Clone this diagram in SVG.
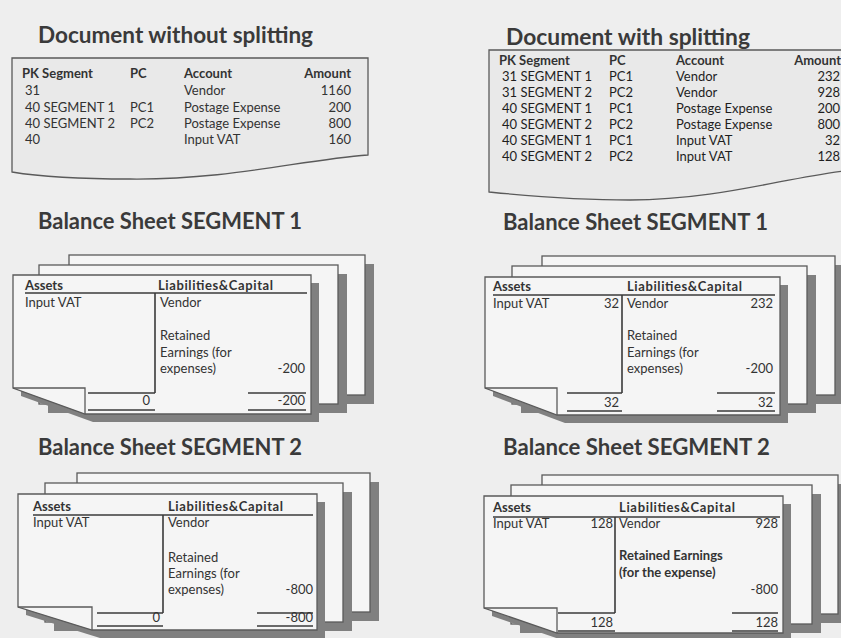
<svg xmlns="http://www.w3.org/2000/svg" width="841" height="638" viewBox="0 0 841 638">
<style>
  text { font-family: Lato, "Open Sans", "Liberation Sans", sans-serif; fill: #333; font-size: 13px; }
  .title { font-size: 23px; font-weight: bold; fill: #3a3a3a; }
  .b { font-weight: bold; }
  .sb { font-weight: bold; }
  .md { fill: #1e1e1e; }
  .r { text-anchor: end; }
  .doc { fill: #e9e9e9; stroke: #5a5a5a; stroke-width: 1.3; }
  .sheet { fill: #f5f5f5; stroke: #5a5a5a; stroke-width: 1.3; }
  .shadow { fill: #808080; }
  .flap { fill: none; stroke: #5a5a5a; stroke-width: 1.3; }
  .rule { stroke: #3a3a3a; stroke-width: 1.6; fill: none; }
</style>
<rect x="0" y="0" width="841" height="638" fill="#eeeeee"/>

<g id="doc-without">
  <text class="title" x="38" y="43" textLength="275" lengthAdjust="spacingAndGlyphs">Document without splitting</text>
  <path class="doc" d="M12,58 H368 V155 C300,160 230,180 130,179 C70,179 30,175 12,172 Z"/>
  <text class="b" x="22" y="78">PK Segment</text>
  <text class="b" x="130" y="78">PC</text>
  <text class="b" x="184" y="78">Account</text>
  <text class="b r" x="351" y="78">Amount</text>
  <text x="25" y="95">31</text>
  <text x="184" y="95">Vendor</text>
  <text class="r" x="351" y="95">1160</text>
  <text x="25" y="112">40 SEGMENT 1</text>
  <text x="130" y="112">PC1</text>
  <text x="184" y="112">Postage Expense</text>
  <text class="r" x="351" y="112">200</text>
  <text x="25" y="128">40 SEGMENT 2</text>
  <text x="130" y="128">PC2</text>
  <text x="184" y="128">Postage Expense</text>
  <text class="r" x="351" y="128">800</text>
  <text x="25" y="144">40</text>
  <text x="184" y="144">Input VAT</text>
  <text class="r" x="351" y="144">160</text>
</g>

<g id="doc-with">
  <text class="title" x="506" y="45" textLength="244" lengthAdjust="spacingAndGlyphs">Document with splitting</text>
  <path class="doc" d="M489,50 H852 V170 C790,176 720,200 630,200 C570,200 520,195 489,192 Z"/>
  <text class="b" x="499" y="65">PK Segment</text>
  <text class="b" x="609" y="65">PC</text>
  <text class="b" x="676" y="65">Account</text>
  <text class="b r" x="841" y="65">Amount</text>
  <text class="md" x="502" y="81">31 SEGMENT 1</text>
  <text class="md" x="609" y="81">PC1</text>
  <text class="md" x="676" y="81">Vendor</text>
  <text class="md r" x="840" y="81">232</text>
  <text class="md" x="502" y="97">31 SEGMENT 2</text>
  <text class="md" x="609" y="97">PC2</text>
  <text class="md" x="676" y="97">Vendor</text>
  <text class="md r" x="840" y="97">928</text>
  <text class="md" x="502" y="113">40 SEGMENT 1</text>
  <text class="md" x="609" y="113">PC1</text>
  <text class="md" x="676" y="113">Postage Expense</text>
  <text class="md r" x="840" y="113">200</text>
  <text class="md" x="502" y="129">40 SEGMENT 2</text>
  <text class="md" x="609" y="129">PC2</text>
  <text class="md" x="676" y="129">Postage Expense</text>
  <text class="md r" x="840" y="129">800</text>
  <text class="md" x="502" y="145">40 SEGMENT 1</text>
  <text class="md" x="609" y="145">PC1</text>
  <text class="md" x="676" y="145">Input VAT</text>
  <text class="md r" x="840" y="145">32</text>
  <text class="md" x="502" y="161">40 SEGMENT 2</text>
  <text class="md" x="609" y="161">PC2</text>
  <text class="md" x="676" y="161">Input VAT</text>
  <text class="md r" x="840" y="161">128</text>
</g>

<g id="bs1-without">
  <text class="title" x="38" y="229" textLength="264" lengthAdjust="spacingAndGlyphs">Balance Sheet SEGMENT 1</text>
  <rect class="shadow" x="78" y="264" width="296" height="140"/>
  <rect class="sheet" x="69" y="255" width="296" height="140"/>
  <rect class="shadow" x="48" y="274" width="299" height="139"/>
  <rect class="sheet" x="39" y="265" width="299" height="139"/>
  <path class="shadow" d="M21,283 H319 V422 H93 L21,396 Z"/>
  <path class="sheet" d="M13,275 H311 V414 H85 L13,388 Z"/>
  <path class="flap" d="M13,388 H85 V414"/>
  <text class="b" x="25" y="290">Assets</text>
  <text class="b" x="158" y="290" textLength="115">Liabilities&amp;Capital</text>
  <line class="rule" x1="25" y1="293" x2="307" y2="293"/>
  <line class="rule" x1="155" y1="293" x2="155" y2="393"/>
  <text x="25" y="307">Input VAT</text>
  <text x="160" y="307">Vendor</text>
  <text x="160" y="340">Retained</text>
  <text x="160" y="357">Earnings (for</text>
  <text x="160" y="373">expenses)</text>
  <text class="r" x="305" y="373">-200</text>
  <line class="rule" x1="88" y1="393" x2="155" y2="393"/>
  <line class="rule" x1="248" y1="393" x2="306" y2="393"/>
  <text class="r" x="150" y="405">0</text>
  <text class="r" x="305" y="405">-200</text>
  <line class="rule" x1="88" y1="410" x2="155" y2="410"/>
  <line class="rule" x1="248" y1="410" x2="306" y2="410"/>
</g>

<g id="bs2-without">
  <text class="title" x="38" y="455" textLength="264" lengthAdjust="spacingAndGlyphs">Balance Sheet SEGMENT 2</text>
  <rect class="shadow" x="86" y="482" width="293" height="139"/>
  <rect class="sheet" x="77" y="473" width="293" height="139"/>
  <rect class="shadow" x="54" y="492" width="298" height="139"/>
  <rect class="sheet" x="45" y="483" width="298" height="139"/>
  <path class="shadow" d="M26,502 H325 V638 H100 L26,615 Z"/>
  <path class="sheet" d="M18,494 H317 V630 H92 L18,607 Z"/>
  <path class="flap" d="M18,607 H92 V630"/>
  <text class="b" x="33" y="511">Assets</text>
  <text class="b" x="168" y="511" textLength="115">Liabilities&amp;Capital</text>
  <line class="rule" x1="33" y1="515" x2="313" y2="515"/>
  <line class="rule" x1="163" y1="515" x2="163" y2="613"/>
  <text x="33" y="527">Input VAT</text>
  <text x="168" y="527">Vendor</text>
  <text x="168" y="562">Retained</text>
  <text x="168" y="578">Earnings (for</text>
  <text x="168" y="594">expenses)</text>
  <text class="r" x="313" y="594">-800</text>
  <line class="rule" x1="97" y1="613" x2="163" y2="613"/>
  <line class="rule" x1="257" y1="613" x2="313" y2="613"/>
  <text class="r" x="160" y="622">0</text>
  <text class="r" x="313" y="622">-800</text>
  <line class="rule" x1="97" y1="626" x2="163" y2="626"/>
  <line class="rule" x1="257" y1="626" x2="313" y2="626"/>
</g>

<g id="bs1-with">
  <text class="title" x="503" y="230" textLength="265" lengthAdjust="spacingAndGlyphs">Balance Sheet SEGMENT 1</text>
  <rect class="shadow" x="551" y="265" width="293" height="139"/>
  <rect class="sheet" x="542" y="256" width="293" height="139"/>
  <rect class="shadow" x="521" y="275" width="295" height="138"/>
  <rect class="sheet" x="512" y="266" width="295" height="138"/>
  <path class="shadow" d="M493,285 H788 V423 H565 L493,396 Z"/>
  <path class="sheet" d="M485,277 H780 V415 H557 L485,388 Z"/>
  <path class="flap" d="M485,388 H557 V415"/>
  <text class="b" x="493" y="291">Assets</text>
  <text class="b" x="627" y="291" textLength="115">Liabilities&amp;Capital</text>
  <line class="rule" x1="493" y1="295" x2="775" y2="295"/>
  <line class="rule" x1="622" y1="295" x2="622" y2="393"/>
  <text x="493" y="308">Input VAT</text>
  <text class="r" x="619" y="308">32</text>
  <text x="627" y="308">Vendor</text>
  <text class="r" x="773" y="308">232</text>
  <text x="627" y="340">Retained</text>
  <text x="627" y="357">Earnings (for</text>
  <text x="627" y="373">expenses)</text>
  <text class="r" x="773" y="373">-200</text>
  <line class="rule" x1="567" y1="393" x2="622" y2="393"/>
  <line class="rule" x1="717" y1="393" x2="775" y2="393"/>
  <text class="r" x="619" y="407">32</text>
  <text class="r" x="773" y="407">32</text>
  <line class="rule" x1="567" y1="411" x2="622" y2="411"/>
  <line class="rule" x1="717" y1="411" x2="775" y2="411"/>
</g>

<g id="bs2-with">
  <text class="title" x="503" y="455" textLength="267" lengthAdjust="spacingAndGlyphs">Balance Sheet SEGMENT 2</text>
  <rect class="shadow" x="551" y="484" width="296" height="139"/>
  <rect class="sheet" x="542" y="475" width="296" height="139"/>
  <rect class="shadow" x="520" y="494" width="301" height="139"/>
  <rect class="sheet" x="511" y="485" width="301" height="139"/>
  <path class="shadow" d="M492,504 H791 V641 H565 L492,616 Z"/>
  <path class="sheet" d="M484,496 H783 V633 H557 L484,608 Z"/>
  <path class="flap" d="M484,608 H557 V633"/>
  <text class="b" x="493" y="512">Assets</text>
  <text class="b" x="619" y="512" textLength="116">Liabilities&amp;Capital</text>
  <line class="rule" x1="493" y1="517" x2="780" y2="517"/>
  <line class="rule" x1="615" y1="517" x2="615" y2="613"/>
  <text x="493" y="528">Input VAT</text>
  <text class="r" x="613" y="528">128</text>
  <text x="619" y="528">Vendor</text>
  <text class="r" x="778" y="528">928</text>
  <text class="sb" x="619" y="560">Retained Earnings</text>
  <text class="sb" x="619" y="577">(for the expense)</text>
  <text class="r" x="778" y="594">-800</text>
  <line class="rule" x1="558" y1="613" x2="615" y2="613"/>
  <line class="rule" x1="732" y1="613" x2="778" y2="613"/>
  <text class="r" x="613" y="627">128</text>
  <text class="r" x="778" y="627">128</text>
  <line class="rule" x1="558" y1="631" x2="615" y2="631"/>
  <line class="rule" x1="732" y1="631" x2="778" y2="631"/>
</g>

<g id="connectors"/>
</svg>
